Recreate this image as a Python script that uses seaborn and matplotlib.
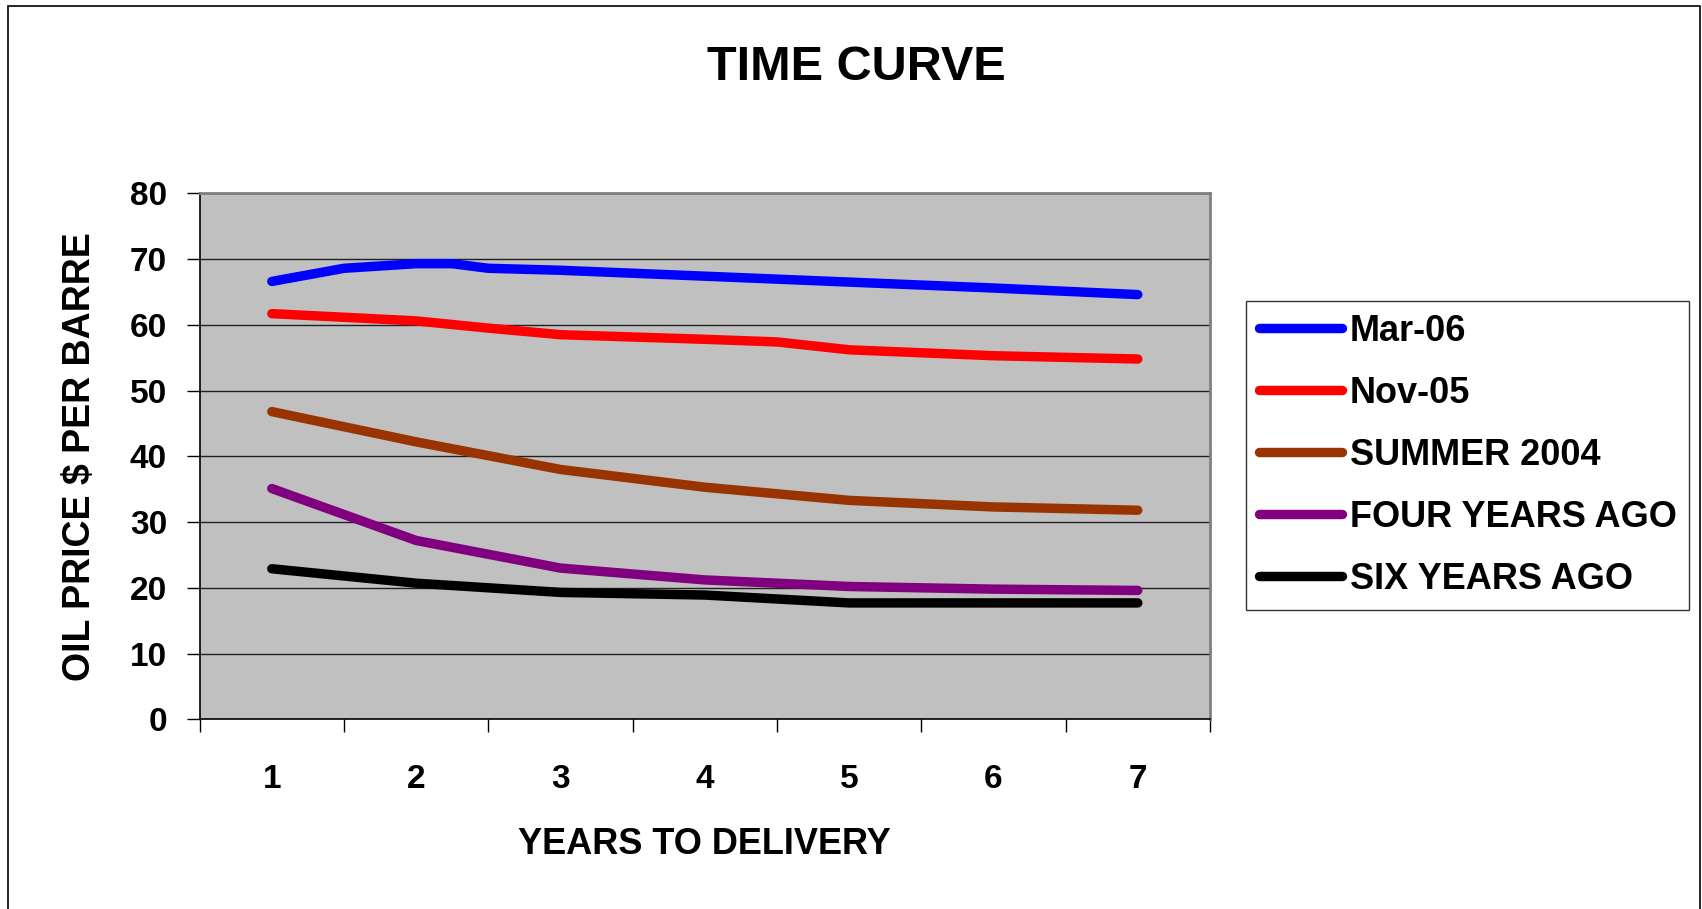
import pandas as pd
import seaborn as sns
import matplotlib.pyplot as plt
from matplotlib.patches import Rectangle

series_names = ["Mar-06", "Nov-05", "SUMMER 2004", "FOUR YEARS AGO", "SIX YEARS AGO"]
line_colors = ["#0000FF", "#FF0000", "#993300", "#800080", "#000000"]

years = [1, 2, 3, 4, 5, 6, 7]

mar06_x = [1, 1.5, 2, 2.25, 2.5, 3, 4, 5, 6, 7]
mar06_y = [66.6, 68.6, 69.3, 69.3, 68.6, 68.3, 67.4, 66.5, 65.6, 64.6]

nov05_x = [1, 2, 2.5, 3, 4, 4.5, 5, 6, 7]
nov05_y = [61.7, 60.6, 59.5, 58.5, 57.8, 57.4, 56.2, 55.3, 54.8]

summer04_y = [46.8, 42.2, 38.0, 35.3, 33.3, 32.3, 31.8]
four_years_y = [35.1, 27.2, 23.0, 21.2, 20.2, 19.8, 19.6]
six_years_y = [22.9, 20.7, 19.3, 18.9, 17.7, 17.7, 17.7]

y_ticks = [0, 10, 20, 30, 40, 50, 60, 70, 80]

xs = [mar06_x, nov05_x, years, years, years]
ys = [mar06_y, nov05_y, summer04_y, four_years_y, six_years_y]
df = pd.concat(
    [pd.DataFrame({"year": x, "price": y, "series": name})
     for name, x, y in zip(series_names, xs, ys)],
    ignore_index=True,
)

sns.set_style("white")
plt.rcParams["font.family"] = ["Liberation Sans", "DejaVu Sans"]
plt.rcParams["font.weight"] = "bold"
plt.rcParams["text.color"] = "black"
plt.rcParams["axes.labelcolor"] = "black"
plt.rcParams["xtick.color"] = "black"
plt.rcParams["ytick.color"] = "black"

fig = plt.figure(figsize=(17.02, 9.09), dpi=100)
ax = fig.add_axes([0.1173, 0.2087, 0.5936, 0.5786])
ax.set_facecolor("#C0C0C0")

sns.lineplot(
    data=df, x="year", y="price", hue="series", hue_order=series_names,
    palette=dict(zip(series_names, line_colors)), estimator=None, sort=False,
    linewidth=6.8, solid_capstyle="round", solid_joinstyle="round", ax=ax,
)

ax.set_xlim(0.5, 7.5)
ax.set_ylim(0, 80)
ax.set_yticks(y_ticks)
ax.set_xticks(years)
ax.set_xticks([i + 0.5 for i in range(0, 8)], minor=True)
ax.grid(axis="y", color="#202020", linewidth=1.0)
ax.grid(axis="x", visible=False)
ax.set_axisbelow(True)

ax.tick_params(axis="y", which="major", direction="out", length=9.5, width=1,
               color="black", labelcolor="black", pad=14, labelsize=24, left=True)
ax.tick_params(axis="x", which="major", length=0, pad=32, labelsize=24,
               labelcolor="black")
ax.tick_params(axis="x", which="minor", direction="out", length=9.5, width=1,
               color="black", bottom=True)
for lab in ax.get_xticklabels() + ax.get_yticklabels():
    lab.set_fontweight("bold")

for side in ["top", "right"]:
    ax.spines[side].set_color("#808080")
    ax.spines[side].set_linewidth(2)
for side in ["left", "bottom"]:
    ax.spines[side].set_color("black")
    ax.spines[side].set_linewidth(1.2)

ax.set_xlabel("YEARS TO DELIVERY", fontsize=26, fontweight="bold", color="black")
ax.set_ylabel("OIL PRICE $ PER BARRE", fontsize=27, fontweight="bold", color="black")
ax.xaxis.set_label_coords(0.5, -0.205)
ax.yaxis.set_label_coords(-0.1006, 0.5)

fig.text(0.503, 1 - 68 / 909, "TIME CURVE", ha="center", va="center",
         fontsize=35, fontweight="bold", color="black")

handles, labels = ax.get_legend_handles_labels()
for h in handles:
    h.set_linewidth(6.8)
    h.set_solid_capstyle("round")
leg = ax.legend(
    handles, labels, loc="upper left", bbox_to_anchor=(1246 / 1702, 1 - 301 / 909),
    bbox_transform=fig.transFigure, frameon=True, fancybox=False, shadow=False,
    prop={"size": 26, "weight": "bold"}, handlelength=2.3, handletextpad=0.22,
    labelspacing=0.75, borderpad=0.35, borderaxespad=0,
)
leg.get_frame().set_edgecolor("black")
leg.get_frame().set_linewidth(1.0)
for t in leg.get_texts():
    t.set_color("black")

fig.patches.append(Rectangle((8 / 1702, -0.01), 1 - 10 / 1702, 1.01 - 6 / 909,
                             transform=fig.transFigure, fill=False,
                             edgecolor="black", linewidth=1.2))

fig.savefig("out.png", dpi=100)
